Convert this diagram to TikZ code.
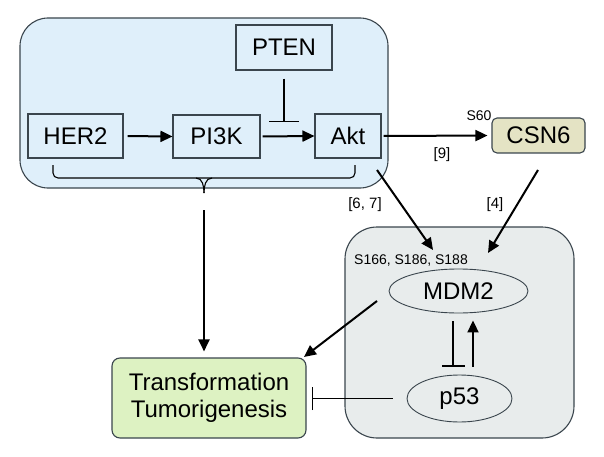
\documentclass[tikz,border=0pt]{standalone}
\usepackage{fontspec}
\setmainfont{Liberation Sans}
\usetikzlibrary{arrows.meta,shapes.geometric,calc}
\definecolor{bluefill}{HTML}{DFEFFA}
\definecolor{grayfill}{HTML}{E8ECEC}
\definecolor{beige}{HTML}{E4E3C4}
\definecolor{greenfill}{HTML}{DDF2C2}
\definecolor{edge}{HTML}{3A454D}
\tikzset{
  box/.style={draw=edge, line width=1.1pt, fill=bluefill, inner sep=0pt,
    font=\fontsize{24}{27}\selectfont},
  oval/.style={ellipse, draw=edge, line width=0.9pt, fill=grayfill, inner sep=0pt,
    font=\fontsize{24}{27}\selectfont},
  arr/.style={line width=2pt, -{Triangle[length=12pt,width=11pt]}},
  inh/.style={line width=1.2pt, -{Bar[width=23pt,line width=1.2pt]}},
  small/.style={font=\fontsize{14}{16}\selectfont, inner sep=0pt},
  cite/.style={font=\fontsize{15}{17}\selectfont, inner sep=0pt},
}
\begin{document}
\begin{tikzpicture}[x=1pt,y=-1pt]
\useasboundingbox (0,0) rectangle (604,457);
% containers
\draw[draw=edge, line width=1.1pt, fill=bluefill, rounded corners=28pt] (20,18) rectangle (388,188);
\draw[draw=edge, line width=1.1pt, fill=grayfill, rounded corners=32pt] (345,227) rectangle (574,438);
% nodes
\node[box, minimum width=95pt, minimum height=44pt] (her2) at (75.5,136) {HER2};
\node[box, minimum width=87pt, minimum height=43pt] (pi3k) at (216.5,136.5) {PI3K};
\node[box, minimum width=66pt, minimum height=44pt] (akt) at (348,136) {Akt};
\node[box, minimum width=96pt, minimum height=45pt] (pten) at (284,47.5) {PTEN};
\node[box, fill=beige, rounded corners=5pt, minimum width=93pt, minimum height=35pt] (csn6) at (538.5,135.5) {CSN6};
\node[box, fill=greenfill, rounded corners=8pt, minimum width=194pt, minimum height=80pt, align=center] (trans) at (209,398) {Transformation\\Tumorigenesis};
\node[oval, minimum width=139pt, minimum height=44pt] (mdm2) at (458.5,291) {MDM2};
\node[oval, minimum width=105pt, minimum height=47pt] (p53) at (459.5,398.5) {p53};
% labels
\node[small] (s60) at (479,116) {S60};
\node[cite] (c9) at (442,155) {[9]};
\node[cite] (c67) at (365,205) {[6, 7]};
\node[cite] (c4) at (495,205) {[4]};
\node[small] (sites) at (411,261) {S166, S186, S188};
% brace
\coordinate (brace) at (204,193);
\draw[line width=1.1pt, rounded corners=5pt] (53,165) -- (53,178) -- (355,178) -- (355,165);
\draw[line width=1.1pt] (196,178) to[out=0,in=90] (brace);
\draw[line width=1.1pt] (212,178) to[out=180,in=90] (brace);
% connectors
\draw[arr, shorten <=4pt, shorten >=0pt] (her2.east) -- (pi3k.west);
\draw[arr, shorten <=2pt] (pi3k.east) -- (akt.west);
\draw[line width=1.1pt, -{Bar[width=30pt,line width=1.1pt]}, shorten <=8pt, shorten >=14pt] (pten.south) -- (pten.south |- akt.west);
\draw[arr, shorten <=2pt, shorten >=4pt] (akt.east) -- (csn6.west);
\draw[arr, shorten <=17pt, shorten >=6pt] (brace) -- (brace |- trans.north);
\coordinate (aktout) at (377,170);
\coordinate (mdmin1) at (433,250);
\draw[arr] (aktout) -- (mdmin1);
\coordinate (csnout) at (538,170);
\coordinate (mdmin2) at (488,253);
\draw[arr] (csnout) -- (mdmin2);
\coordinate (mdmout) at (377,301);
\coordinate (transin) at (304,357);
\draw[arr] (mdmout) -- (transin);
\draw[inh, shorten <=14pt, shorten >=5pt] (p53.west) -- (p53.west -| trans.east);
\draw[inh, shorten <=8pt, shorten >=8pt] (mdm2.south -| 453,0) -- (p53.north -| 453,0);
\draw[arr, shorten <=8pt, shorten >=7pt] (p53.north -| 473,0) -- (mdm2.south -| 473,0);
\end{tikzpicture}
\end{document}
